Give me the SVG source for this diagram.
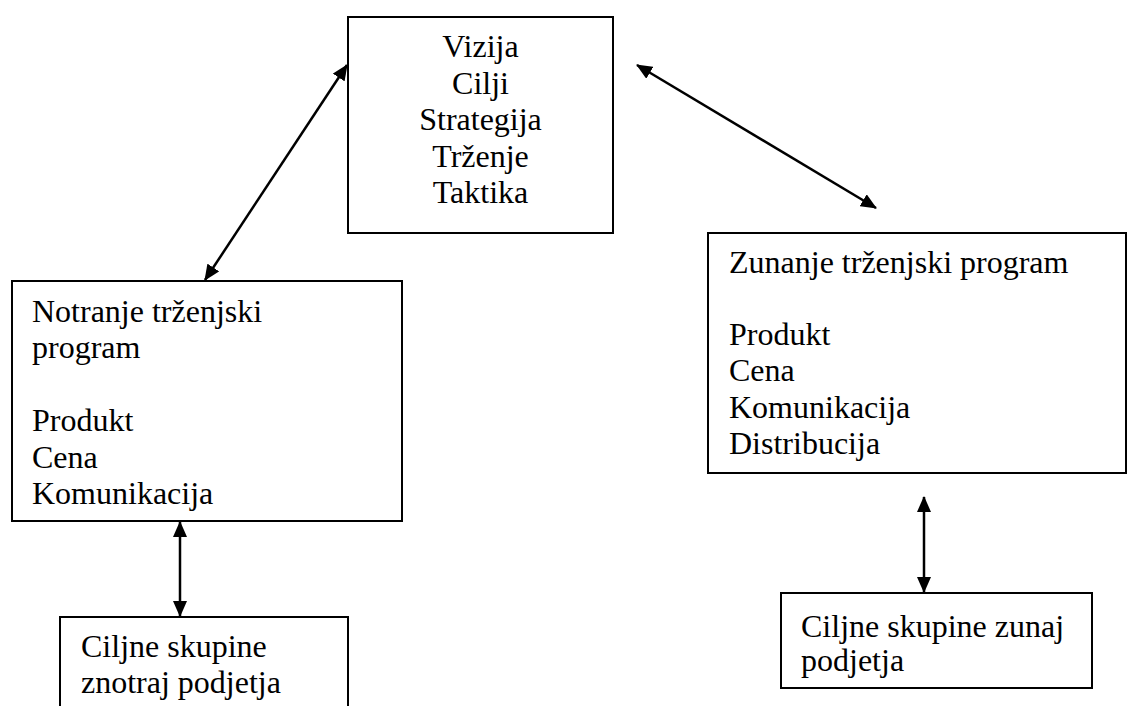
<svg xmlns="http://www.w3.org/2000/svg" width="1128" height="706" viewBox="0 0 1128 706">
<style>
.box{fill:#fff;stroke:#000;stroke-width:2}
.t{font-family:'Liberation Serif','Times New Roman',Tinos,'Nimbus Roman','DejaVu Serif',serif;font-size:32px;fill:#000}
.c{text-anchor:middle}
.conn{stroke:#000;stroke-width:2.5;fill:none;marker-start:url(#ah);marker-end:url(#ah)}
</style>
<defs>
<marker id="ah" markerUnits="userSpaceOnUse" markerWidth="16" markerHeight="14" refX="15" refY="7" orient="auto-start-reverse" viewBox="0 0 16 14">
<path d="M0,0 L16,7 L0,14 Z" fill="#000"/>
</marker>
</defs>
<rect width="1128" height="706" fill="#fff"/>
<g id="n-top">
<rect class="box" x="348" y="17" width="265" height="216"/>
<text class="t c" font-family="Liberation Serif, serif" x="480.5" y="57">Vizija</text>
<text class="t c" font-family="Liberation Serif, serif" x="480.5" y="93.5">Cilji</text>
<text class="t c" font-family="Liberation Serif, serif" x="480.5" y="130">Strategija</text>
<text class="t c" font-family="Liberation Serif, serif" x="480.5" y="166.5">Trženje</text>
<text class="t c" font-family="Liberation Serif, serif" x="480.5" y="203">Taktika</text>
</g>
<g id="n-notranje">
<rect class="box" x="12" y="281" width="390" height="240"/>
<text class="t" x="32" y="322">Notranje trženjski</text>
<text class="t" x="32" y="358">program</text>
<text class="t" x="32" y="431">Produkt</text>
<text class="t" x="32" y="468">Cena</text>
<text class="t" x="32" y="504">Komunikacija</text>
</g>
<g id="n-zunanje">
<rect class="box" x="708" y="233" width="418" height="240"/>
<text class="t" x="729" y="273">Zunanje trženjski program</text>
<text class="t" x="729" y="345">Produkt</text>
<text class="t" x="729" y="381">Cena</text>
<text class="t" x="729" y="418">Komunikacija</text>
<text class="t" x="729" y="454">Distribucija</text>
</g>
<g id="n-ciljne-znotraj">
<rect class="box" x="60" y="617" width="288" height="110"/>
<text class="t" x="81" y="657">Ciljne skupine</text>
<text class="t" x="81" y="693">znotraj podjetja</text>
</g>
<g id="n-ciljne-zunaj">
<rect class="box" x="781" y="593" width="311" height="95"/>
<text class="t" x="801" y="637">Ciljne skupine zunaj</text>
<text class="t" x="801" y="671">podjetja</text>
</g>
<g id="connectors">
<line class="conn" x1="347" y1="65" x2="205" y2="280"/>
<line class="conn" x1="637" y1="65" x2="876" y2="208"/>
<line class="conn" x1="180" y1="522" x2="180" y2="616"/>
<line class="conn" x1="924" y1="497" x2="924" y2="592"/>
</g>
</svg>
